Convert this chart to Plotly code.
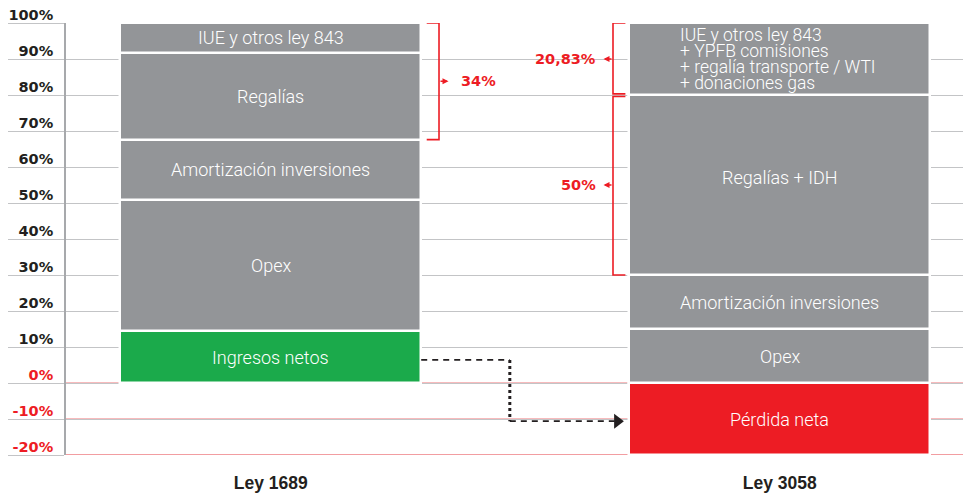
import plotly.graph_objects as go

# ---------------- data ----------------
categories = ["Ley 1689", "Ley 3058"]
cat_pos = [0, 1]

left_labels = ["Ingresos netos", "Opex", "Amortización inversiones", "Regalías", "IUE y otros ley 843"]
left_values = [14.4, 36.4, 16.8, 24.1, 8.3]

right_labels = ["Pérdida neta", "Opex", "Amortización inversiones", "Regalías + IDH", "IUE y otros ley 843"]
right_values = [-20, 15, 15, 50, 20]
right_top_lines = ["IUE y otros ley 843", "+ YPFB comisiones", "+ regalía transporte / WTI", "+ donaciones gas"]

bracket_labels = ["34%", "20,83%", "50%"]

tick_values = list(range(-20, 101, 10))
tick_labels = [f"{v}%" for v in tick_values]

connector_y = [6.4, -10.6]   # start level (from Ingresos netos) and end level (to Pérdida neta)

# ---------------- style ----------------
GRAY = "#939598"
GREEN = "#1BAA4B"
RED = "#ED1C24"
DARK = "#231F20"
GRID = "#C3C4C6"
PINK = "#F4A3A6"
left_colors = [GREEN, GRAY, GRAY, GRAY, GRAY]
right_colors = [RED, GRAY, GRAY, GRAY, GRAY]

UNIT = 509.0           # pixels per category step
BW = 300.8 / UNIT      # bar width in data units
HALF = BW / 2


def px(d):
    return d / UNIT


fig = go.Figure()

for pos, vals, cols, labs in [(cat_pos[0], left_values, left_colors, left_labels),
                              (cat_pos[1], right_values, right_colors, right_labels)]:
    for v, c, l in zip(vals, cols, labs):
        fig.add_trace(go.Bar(x=[pos], y=[v], width=BW, name=l,
                             marker=dict(color=c, line=dict(color="white", width=2.5)),
                             hoverinfo="skip", showlegend=False))

annotations = []
label_font = dict(family="Roboto", size=18, color="white", weight=300)


def seg_mids(vals):
    mids = []
    pos_base, neg_base = 0.0, 0.0
    for v in vals:
        if v >= 0:
            mids.append(pos_base + v / 2)
            pos_base += v
        else:
            mids.append(neg_base + v / 2)
            neg_base += v
    return mids


left_mids = seg_mids(left_values)
right_mids = seg_mids(right_values)

for lab, m in zip(left_labels, left_mids):
    annotations.append(dict(x=cat_pos[0], y=m, text=lab, showarrow=False, font=label_font,
                            xanchor="center", yanchor="middle"))
for i, (lab, m) in enumerate(zip(right_labels, right_mids)):
    if i == len(right_labels) - 1:
        continue
    annotations.append(dict(x=cat_pos[1], y=m, text=lab, showarrow=False, font=label_font,
                            xanchor="center", yanchor="middle", yshift=8 if i == 3 else 0))

# multi-line label in the top right segment
line_step = 4.4
top_mid = right_mids[-1]
n = len(right_top_lines)
top_font = dict(label_font, size=17.5)
for k, t in enumerate(right_top_lines):
    yy = top_mid + (n - 1) / 2 * line_step - k * line_step
    annotations.append(dict(x=cat_pos[1] - px(102), y=yy, text=t, showarrow=False, font=top_font,
                            xanchor="left", yanchor="middle"))

# ---------------- brackets ----------------
shapes = []
left_top = sum(left_values)
left_bracket_bottom = sum(left_values[:3])
right_top = sum(v for v in right_values if v > 0)
right_mid_b = sum(right_values[1:4])
right_low_b = sum(right_values[1:3])

lx_stub = cat_pos[0] + HALF + px(5.5)
lx_v = cat_pos[0] + HALF + px(17.8)
rx_stub = cat_pos[1] - HALF - px(4)
rx_v = cat_pos[1] - HALF - px(16.4)

bracket_line = dict(color=RED, width=1.6)
shapes.append(dict(type="path", xref="x", yref="y", layer="above", line=bracket_line,
                   path=f"M{lx_stub},{left_top} L{lx_v},{left_top} L{lx_v},{left_bracket_bottom} L{lx_stub},{left_bracket_bottom}"))
shapes.append(dict(type="path", xref="x", yref="y", layer="above", line=bracket_line,
                   path=f"M{rx_stub},{right_top} L{rx_v},{right_top} L{rx_v},{right_mid_b + 0.3} L{rx_stub},{right_mid_b + 0.3}"))
shapes.append(dict(type="path", xref="x", yref="y", layer="above", line=bracket_line,
                   path=f"M{rx_stub},{right_mid_b - 0.4} L{rx_v},{right_mid_b - 0.4} L{rx_v},{right_low_b} L{rx_stub},{right_low_b}"))

bracket_mids = [(left_top + left_bracket_bottom) / 2, (right_top + right_mid_b) / 2, (right_mid_b + right_low_b) / 2]
# small arrows
annotations.append(dict(x=lx_v + px(9.5), y=bracket_mids[0], ax=-9.5, ay=0, text="", showarrow=True,
                        arrowhead=2, arrowsize=0.8, arrowwidth=1.5, arrowcolor=RED))
for bm in bracket_mids[1:]:
    annotations.append(dict(x=rx_v - px(9.5), y=bm, ax=9.5, ay=0, text="", showarrow=True,
                            arrowhead=2, arrowsize=0.8, arrowwidth=1.5, arrowcolor=RED))
pct_font = dict(family="DejaVu Sans", size=14.5, color=RED, weight=700)
annotations.append(dict(x=lx_v + px(20), y=bracket_mids[0], text=bracket_labels[0], showarrow=False,
                        xanchor="left", yanchor="middle", font=pct_font))
for lab, bm in zip(bracket_labels[1:], bracket_mids[1:]):
    annotations.append(dict(x=rx_v - px(15), y=bm, text=lab, showarrow=False,
                            xanchor="right", yanchor="middle", font=pct_font))

# ---------------- red reference lines ----------------
for v, col in [(0, PINK), (-10, PINK), (-20, "#EE7C82")]:
    shapes.append(dict(type="line", xref="paper", yref="y", x0=0, x1=1, y0=v, y1=v,
                       layer="between", line=dict(color=col, width=1.6)))

# ---------------- connector ----------------
x_start = cat_pos[0] + HALF
x_elbow = cat_pos[0] + px(239)
x_end = cat_pos[1] - HALF - px(12)
fig.add_trace(go.Scatter(x=[x_start, x_elbow], y=[connector_y[0], connector_y[0]], mode="lines",
                         line=dict(color=DARK, width=1.8, dash="6px,5px"), hoverinfo="skip", showlegend=False))
fig.add_trace(go.Scatter(x=[x_elbow, x_elbow], y=[connector_y[0], connector_y[1]], mode="lines",
                         line=dict(color=DARK, width=3, dash="3px,3px"), hoverinfo="skip", showlegend=False))
fig.add_trace(go.Scatter(x=[x_elbow, x_end], y=[connector_y[1], connector_y[1]], mode="lines",
                         line=dict(color=DARK, width=1.8, dash="6px,5px"), hoverinfo="skip", showlegend=False))
fig.add_trace(go.Scatter(x=[x_end], y=[connector_y[1]], mode="markers",
                         marker=dict(symbol="triangle-right", size=13, color=DARK),
                         hoverinfo="skip", showlegend=False))

# ---------------- tick labels ----------------
ticktext = []
for v, t in zip(tick_values, tick_labels):
    if v <= 0:
        ticktext.append(f'<span style="color:{RED}">{t}</span>')
    else:
        ticktext.append(t)

# the page body adds an 8px offset, so the figure is drawn 8px smaller
fig.update_layout(
    width=963, height=488,
    margin=dict(l=58, r=4, t=15, b=41),
    paper_bgcolor="white", plot_bgcolor="white",
    barmode="relative", bargap=0,
    showlegend=False,
    shapes=shapes, annotations=annotations,
    xaxis=dict(range=[-0.4024, 1.3678], tickvals=cat_pos, ticktext=categories,
               showgrid=False, zeroline=False, showline=False, ticks="",
               ticklabelstandoff=15, automargin=False,
               tickfont=dict(family="Liberation Sans", size=17.5, color=DARK, weight=700),
               fixedrange=True),
    yaxis=dict(range=[-20, 100], tickvals=tick_values, ticktext=ticktext,
               showgrid=True, gridcolor=GRID, gridwidth=1.3, zeroline=False,
               showline=True, linecolor="#A7A9AC", linewidth=1.8, mirror=True,
               ticks="outside", ticklen=58, tickcolor=GRID, tickwidth=1.3,
               ticklabelposition="outside top", ticklabelstandoff=8, ticklabelshift=3,
               ticklabeloverflow="allow", automargin=False,
               tickfont=dict(family="DejaVu Sans", size=14.5, color=DARK, weight=700),
               fixedrange=True),
)

fig.write_html("out.html")
